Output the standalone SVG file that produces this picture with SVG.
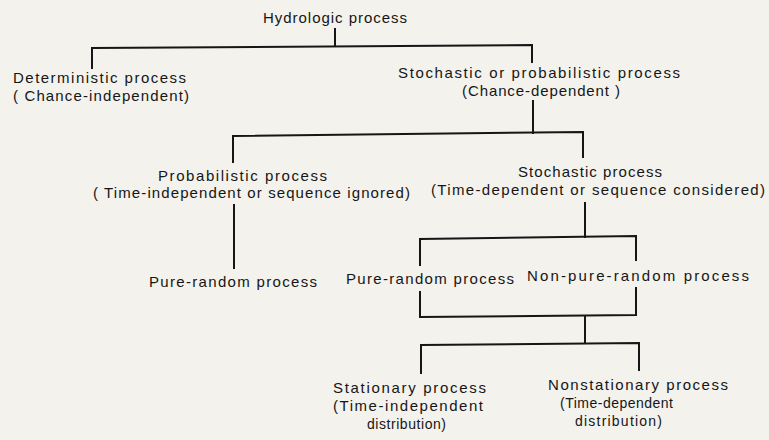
<svg xmlns="http://www.w3.org/2000/svg" width="769" height="440" viewBox="0 0 769 440">
<style>
text { font-family: "Liberation Sans", Arial, sans-serif; font-size: 15px; fill: #161616; }
text.s { font-size: 14px; }
.c { fill: none; stroke: #161616; stroke-width: 2; stroke-linecap: square; }
</style>
<rect width="769" height="440" fill="#f3f2ed"/>
<g id="connectors" class="c">
<path d="M335,29 V46"/>
<path d="M92,68 V48 L532,45 V62"/>
<path d="M533,101 V133"/>
<path d="M233,162 V136 L583,132 V157"/>
<path d="M234,205 V268"/>
<path d="M585,203 V237"/>
<path d="M420,265 V239 L636,236 V260"/>
<path d="M420,292 V317 L636,315 V288"/>
<path d="M585,316 V343"/>
<path d="M421,373 V345 L639,343 V370"/>
</g>
<g id="hydrologic"><text x="263" y="23" textLength="144" lengthAdjust="spacing">Hydrologic process</text></g>
<g id="deterministic">
<text x="13" y="83" textLength="173" lengthAdjust="spacing">Deterministic process</text>
<text x="13" y="101" textLength="176" lengthAdjust="spacing">( Chance-independent)</text>
</g>
<g id="stochastic-probabilistic">
<text x="398" y="78" textLength="282" lengthAdjust="spacing">Stochastic or probabilistic process</text>
<text x="462" y="96" textLength="158" lengthAdjust="spacing">(Chance-dependent )</text>
</g>
<g id="probabilistic">
<text x="158" y="181" textLength="169" lengthAdjust="spacing">Probabilistic process</text>
<text x="93" y="198" textLength="317" lengthAdjust="spacing">( Time-independent or sequence ignored)</text>
</g>
<g id="stochastic">
<text x="518" y="177" textLength="144" lengthAdjust="spacing">Stochastic process</text>
<text x="431" y="195" textLength="334" lengthAdjust="spacing">(Time-dependent or sequence considered)</text>
</g>
<g id="pure-random-1"><text x="149" y="287" textLength="168" lengthAdjust="spacing">Pure-random process</text></g>
<g id="pure-random-2"><text x="346" y="284" textLength="168" lengthAdjust="spacing">Pure-random process</text></g>
<g id="non-pure-random"><text x="527" y="281" textLength="222" lengthAdjust="spacing">Non-pure-random process</text></g>
<g id="stationary">
<text x="333" y="393" textLength="153" lengthAdjust="spacing">Stationary process</text>
<text x="333" y="411" textLength="150" lengthAdjust="spacing">(Time-independent</text>
<text class="s" x="367" y="429" textLength="79" lengthAdjust="spacing">distribution)</text>
</g>
<g id="nonstationary">
<text x="548" y="390" textLength="180" lengthAdjust="spacing">Nonstationary process</text>
<text class="s" x="560" y="408" textLength="113" lengthAdjust="spacing">(Time-dependent</text>
<text class="s" x="575" y="426" textLength="87" lengthAdjust="spacing">distribution)</text>
</g>
</svg>
